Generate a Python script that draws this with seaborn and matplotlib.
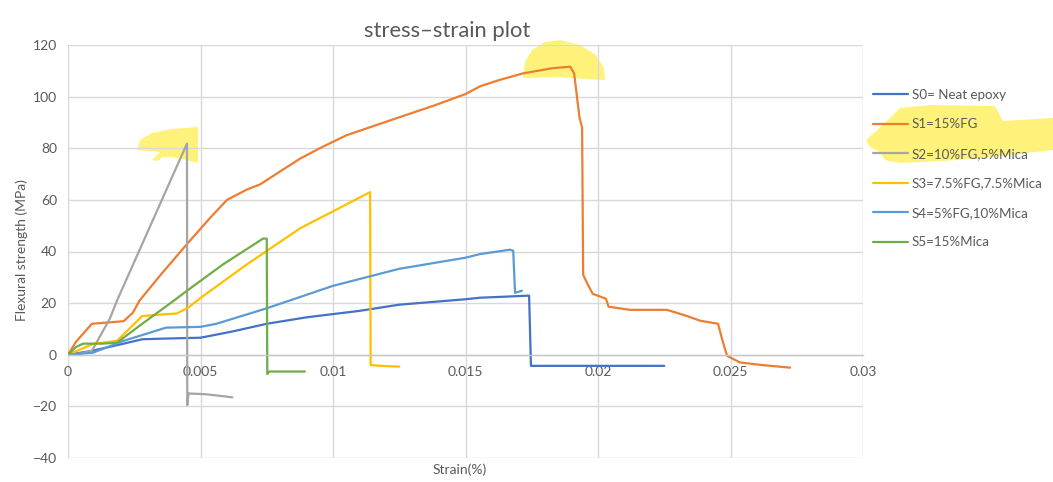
import matplotlib
matplotlib.use("Agg")
import matplotlib.pyplot as plt
import seaborn as sns
import pandas as pd
from matplotlib.patches import Polygon

# ---------------- data ----------------
series_names = ["S0= Neat epoxy", "S1=15%FG", "S2=10%FG,5%Mica",
                "S3=7.5%FG,7.5%Mica", "S4=5%FG,10%Mica", "S5=15%Mica"]

s0_x = [0, 0.0009, 0.0021, 0.0028, 0.0034, 0.005, 0.0062, 0.0075, 0.009, 0.011,
        0.0125, 0.015, 0.01555, 0.0165, 0.0174, 0.01747, 0.0176, 0.0225]
s0_y = [0, 1.5, 4.3, 6.0, 6.2, 6.6, 9, 12, 14.5, 17, 19.4, 21.5, 22.1, 22.5, 22.9,
        -4.3, -4.3, -4.3]

s1_x = [0, 0.0003, 0.0009, 0.0021, 0.00245, 0.0027, 0.0035, 0.0045, 0.00536, 0.006,
        0.00675, 0.00725, 0.008, 0.00876, 0.0095, 0.0101, 0.0105, 0.0115, 0.0125,
        0.0138, 0.015, 0.01555, 0.0163, 0.01717, 0.01827, 0.01895,
        0.0191, 0.0193, 0.0194, 0.01944, 0.0196, 0.0198, 0.0203, 0.0204, 0.0212,
        0.0226, 0.02336, 0.02385, 0.02453, 0.0247, 0.02487, 0.02536, 0.0262, 0.02725]
s1_y = [0, 5, 12, 13, 16.3, 21, 31, 43, 53, 60, 64, 66, 71, 76, 80, 83, 85, 88.5, 92,
        96.5, 101, 104, 106.5, 109, 111, 111.6, 109, 92, 88, 31, 27.5, 23.6, 21.7,
        18.6, 17.4, 17.4, 15, 13.2, 12, 5.4, -0.4, -3, -4, -5]

s2_x = [0, 0.0005, 0.0009, 0.00158, 0.00185, 0.00449, 0.0045, 0.00455, 0.0052,
        0.0058, 0.0062]
s2_y = [0, 0.5, 1.5, 14, 21, 81.8, -19.5, -15, -15.3, -16, -16.5]

s3_x = [0, 0.00095, 0.00185, 0.0028, 0.0041, 0.0045, 0.005, 0.00675, 0.00876, 0.0114,
        0.01142, 0.0118, 0.0125]
s3_y = [0, 4.2, 5.4, 15, 16, 18, 22, 35, 49, 63, -4, -4.3, -4.6]

s4_x = [0, 0.00094, 0.0021, 0.0037, 0.005, 0.0056, 0.0075, 0.01, 0.0125, 0.015,
        0.01555, 0.01668, 0.0168, 0.01687, 0.01713]
s4_y = [0, 0.8, 5.4, 10.5, 10.8, 12, 18, 26.7, 33.3, 37.6, 39, 40.7, 40.3, 24, 24.8]

s5_x = [0, 0.0003, 0.00057, 0.0013, 0.00185, 0.0028, 0.004, 0.00449, 0.00585,
        0.00736, 0.0075, 0.00752, 0.0076, 0.0082, 0.00894]
s5_y = [0, 3, 4.3, 4.3, 4.7, 12, 21, 24.8, 35, 45, 45, -7.5, -6.5, -6.5, -6.5]

x_ticks = [0, 0.005, 0.01, 0.015, 0.02, 0.025, 0.03]
x_tick_labels = ["0", "0.005", "0.01", "0.015", "0.02", "0.025", "0.03"]
y_ticks = [-40, -20, 0, 20, 40, 60, 80, 100, 120]

colors = ["#4472C4", "#ED7D31", "#A5A5A5", "#FFC000", "#5B9BD5", "#70AD47"]

xs = [s0_x, s1_x, s2_x, s3_x, s4_x, s5_x]
ys = [s0_y, s1_y, s2_y, s3_y, s4_y, s5_y]
rows = []
for name, xv, yv in zip(series_names, xs, ys):
    for i, (a, b) in enumerate(zip(xv, yv)):
        rows.append({"series": name, "strain": a, "stress": b, "order": i})
df = pd.DataFrame(rows)

# ---------------- style ----------------
sns.set_theme(style="white")
plt.rcParams["font.family"] = ["Lato", "DejaVu Sans"]
TXT = "#595959"
GRID = "#D9D9D9"

W, H = 1053, 482
fig = plt.figure(figsize=(W / 100, H / 100), dpi=100)
fig.patch.set_facecolor("white")
L, R, T, B = 68, 863, 45, 458
ax = fig.add_axes([L / W, 1 - B / H, (R - L) / W, (B - T) / H])
ax.patch.set_facecolor("none")

sns.lineplot(data=df, x="strain", y="stress", hue="series", hue_order=series_names,
             palette=colors, sort=False, estimator=None, linewidth=1.6, ax=ax)

ax.set_xlim(0, 0.03)
ax.set_ylim(-40, 120)
ax.set_xticks(x_ticks)
ax.set_xticklabels(x_tick_labels)
ax.set_yticks(y_ticks)
ax.grid(True, color=GRID, linewidth=1.0)
ax.set_axisbelow(True)
for s in ["top", "right", "left"]:
    ax.spines[s].set_visible(False)
ax.spines["bottom"].set_position(("data", 0))
ax.spines["bottom"].set_color("#C8C8C8")
ax.spines["bottom"].set_linewidth(1.0)
ax.tick_params(axis="both", length=0, labelsize=10, colors=TXT)
ax.tick_params(axis="x", pad=8)
ax.tick_params(axis="y", pad=8)

ax.set_xlabel("Strain(%)", fontsize=10, color=TXT)
ax.xaxis.set_label_coords((460 - L) / (R - L), -0.012)
ax.set_ylabel("Flexural strength (MPa)", fontsize=10, color=TXT)
ax.yaxis.set_label_coords(-0.05, 0.504)

ax.set_title("stress\u2013strain plot", fontsize=15.8, color=TXT,
             x=(447 - L) / (R - L), y=0.998)

h, l = ax.get_legend_handles_labels()
leg = ax.legend(h, l, loc="upper left", bbox_to_anchor=(873 / W, 1 - 89 / H),
                bbox_transform=fig.transFigure, frameon=False, fontsize=9.6,
                handlelength=2.6, handletextpad=0.3, labelspacing=1.31,
                borderpad=0, borderaxespad=0)
for t in leg.get_texts():
    t.set_color(TXT)

# ---------------- highlighter strokes (decorative) ----------------
def px(points):
    return [(x / W, 1 - y / H) for x, y in points]

hl = "#FFF27A"
blobs = [
    [(523, 78), (525, 62), (532, 50), (545, 42), (560, 40), (580, 45), (596, 55),
     (604, 68), (605, 80), (585, 79), (560, 77)],
    [(137, 150), (140, 140), (152, 133), (172, 129), (198, 127), (198, 163),
     (186, 160), (172, 157), (162, 157), (158, 161), (152, 160), (160, 152)],
    [(866, 140), (875, 132), (888, 120), (900, 108), (930, 105), (995, 106),
     (1003, 121), (1053, 118), (1053, 150), (1010, 155), (960, 160), (900, 163),
     (885, 160), (880, 152), (870, 147)],
]
for b in blobs:
    fig.add_artist(Polygon(px(b), closed=True, transform=fig.transFigure,
                           facecolor=hl, edgecolor="none", zorder=-1))

fig.savefig("out.png", dpi=100, facecolor="white")
